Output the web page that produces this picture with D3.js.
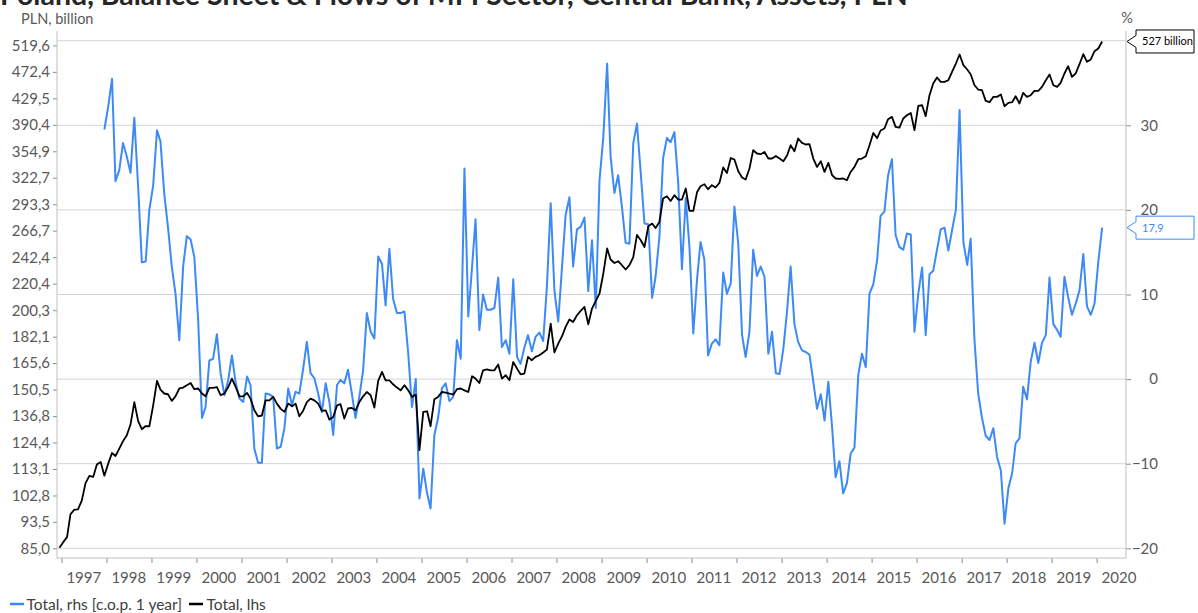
<!DOCTYPE html>
<html>
<head>
<meta charset="utf-8">
<script src="https://cdn.jsdelivr.net/npm/d3@7"></script>
<style>
  body { margin: 0; background: #fff; }
  svg { display: block; font-family: Lato, 'Open Sans', sans-serif; }
</style>
</head>
<body>
<svg id="chart" width="1198" height="613"></svg>
<script>
const titleText = 'Poland, Balance Sheet & Flows of MFI Sector, Central Bank, Assets, PLN';

// Total assets, PLN billion, monthly from Dec 1996 (lhs, log)
const assetsStart = [1996, 11];
const assetsTotal = [
  85.2,
  86.9, 88.5, 96.1, 97.7, 97.8, 101.0, 107.5, 110.3, 109.9, 114.9, 116.0, 110.4,
  115.3, 119.8, 118.5, 121.7, 125.0, 127.7, 132.7, 143.9, 134.4, 130.5, 132.0, 131.9,
  142.2, 155.3, 150.5, 148.4, 148.0, 144.5, 146.9, 151.1, 151.6, 152.9, 154.1, 150.7,
  151.1, 148.4, 146.9, 151.4, 151.4, 151.9, 147.5, 148.4, 151.9, 156.6, 151.9, 146.9,
  146.9, 148.7, 145.7, 139.7, 136.7, 137.1, 144.8, 144.8, 146.6, 143.1, 140.4, 138.9,
  143.1, 141.7, 143.1, 136.7, 139.4, 143.9, 145.7, 144.8, 143.1, 139.4, 139.7, 135.1,
  136.4, 142.2, 142.8, 135.6, 140.6, 140.9, 139.7, 143.9, 146.9, 149.2, 147.5, 141.1,
  155.3, 160.4, 155.6, 155.6, 153.4, 151.6, 150.1, 152.9, 150.1, 146.6, 147.8, 121.0,
  138.9, 139.2, 131.9, 145.4, 146.6, 149.2, 148.9, 148.4, 147.8, 150.7, 151.1, 150.1,
  149.2, 157.9, 156.6, 154.1, 161.3, 161.8, 161.3, 161.3, 164.7, 156.6, 158.5, 155.6,
  166.2, 162.3, 159.0, 159.4, 169.3, 167.3, 169.3, 170.3, 172.0, 173.8, 190.9, 172.0,
  177.6, 182.4, 188.6, 193.7, 192.0, 196.7, 199.8, 202.7, 190.4, 201.5, 207.1, 212.7,
  228.6, 250.1, 240.4, 237.4, 238.9, 235.5, 231.9, 235.5, 242.4, 262.6, 257.7, 251.5,
  271.0, 273.6, 269.3, 275.2, 299.4, 301.9, 296.8, 303.0, 298.3, 298.3, 310.4, 286.3,
  286.3, 306.6, 313.0, 315.2, 309.6, 314.1, 311.5, 316.7, 334.8, 328.3, 346.5, 344.5,
  330.3, 322.9, 320.6, 333.6, 356.3, 352.1, 351.2, 354.1, 345.8, 345.8, 349.0, 345.8,
  342.4, 349.9, 362.8, 355.0, 371.6, 365.8, 363.7, 364.1, 345.8, 335.5, 342.4, 329.5,
  340.4, 325.6, 321.8, 321.3, 321.8, 319.8, 329.5, 335.5, 344.9, 345.8, 348.7, 362.8,
  379.2, 372.0, 382.5, 385.2, 398.4, 401.7, 387.5, 386.6, 399.4, 404.1, 407.5, 382.9,
  417.9, 418.9, 402.7, 434.3, 453.0, 462.9, 455.6, 455.6, 458.4, 472.3, 486.8, 502.9,
  483.9, 476.4, 468.4, 450.2, 443.3, 442.2, 425.5, 423.5, 431.7, 431.7, 435.4, 417.4,
  422.4, 423.5, 432.7, 421.5, 437.9, 431.7, 434.3, 441.1, 441.1, 447.5, 458.4, 467.9,
  450.2, 447.5, 454.0, 469.6, 482.1, 463.9, 469.6, 485.6, 503.4, 489.7, 494.0, 508.9,
  513.8, 527.0
];

// Total, % change over 1 year, monthly from Dec 1997 (rhs)
const changeStart = [1997, 11];
const changeYoY = [
  29.5,
  32.2, 35.5, 23.4, 24.7, 27.9, 26.3, 24.4, 30.9, 22.7, 13.8, 13.9, 20.0,
  22.9, 29.4, 28.1, 21.9, 18.0, 13.3, 10.1, 4.6, 13.3, 16.9, 16.5, 14.4,
  7.0, -4.6, -3.3, 2.2, 2.4, 5.3, 0.7, -1.9, -0.1, 2.8, -0.5, -2.3,
  -2.7, 0.3, -0.7, -8.2, -9.9, -9.9, -1.7, -1.8, -2.1, -8.2, -8.0, -5.8,
  -1.1, -3.1, -1.5, -1.7, 1.1, 4.4, 0.7, 0.1, -1.7, -3.9, -0.5, -2.7,
  -6.6, -0.7, -0.1, -0.5, 1.1, -1.7, -4.6, -2.1, 1.1, 7.8, 5.6, 4.8,
  14.5, 13.6, 8.7, 15.4, 9.5, 7.8, 7.8, 8.0, 3.0, -3.3, 0.0, -14.1,
  -10.6, -13.5, -15.3, -6.6, -4.6, -1.1, -0.5, -2.6, -2.1, 4.6, 2.4, 24.9,
  7.4, 13.3, 18.9, 5.8, 10.0, 8.2, 8.2, 8.4, 12.0, 3.8, 4.6, 3.0,
  11.8, 2.6, 1.8, 3.7, 5.2, 3.3, 5.0, 5.5, 4.5, 10.9, 20.8, 10.5,
  6.8, 13.3, 19.4, 21.5, 13.3, 17.7, 18.0, 19.1, 10.4, 16.4, 8.4, 23.5,
  28.6, 37.3, 26.3, 22.0, 24.1, 20.4, 16.1, 16.0, 27.9, 30.2, 24.3, 18.4,
  18.3, 9.6, 12.1, 16.8, 26.1, 28.5, 28.0, 29.2, 23.1, 13.0, 21.4, 15.6,
  5.4, 11.9, 16.2, 14.1, 2.8, 4.2, 4.7, 4.0, 12.6, 10.1, 11.3, 20.4,
  16.0, 5.2, 2.6, 5.6, 15.3, 12.2, 13.3, 12.1, 3.0, 5.6, 0.7, 0.6,
  3.6, 8.2, 13.3, 6.5, 4.4, 3.4, 3.2, 2.9, -0.3, -3.5, -1.8, -4.9,
  -0.3, -5.8, -11.6, -9.7, -13.5, -12.3, -8.8, -8.1, 0.5, 3.0, 1.4, 10.1,
  11.2, 14.1, 19.3, 19.8, 24.1, 26.0, 17.0, 15.6, 15.3, 17.2, 17.1, 5.6,
  10.1, 13.2, 5.2, 12.4, 12.8, 15.3, 17.7, 17.9, 15.2, 17.6, 20.0, 31.8,
  16.2, 13.5, 16.6, 4.6, -1.7, -4.6, -6.7, -7.2, -5.8, -9.2, -10.8, -17.1,
  -12.9, -11.1, -7.6, -7.0, -0.9, -2.4, 2.0, 4.3, 1.9, 4.3, 5.2, 12.0,
  6.5, 5.8, 5.0, 12.1, 9.7, 7.6, 8.9, 10.5, 14.8, 8.6, 7.6, 8.9,
  13.9, 17.9
];

const leftTickLabels = ['85,0', '93,5', '102,8', '113,1', '124,4', '136,8', '150,5', '165,6', '182,1', '200,3',
  '220,4', '242,4', '266,7', '293,3', '322,7', '354,9', '390,4', '429,5', '472,4', '519,6'];
const rightTicks = [-20, -10, 0, 10, 20, 30];
const gridTicks = [-20, -10, 0, 10, 20, 30, 40];
const yearLabels = d3.range(1997, 2021);

const blue = '#3d8af7';
const axisGrey = '#bfbfbf';
const textGrey = '#595959';

const toSeries = (start, values) => values.map((v, i) => ({
  date: new Date(start[0], start[1] + i, 15),
  value: v
}));
const assets = toSeries(assetsStart, assetsTotal);
const change = toSeries(changeStart, changeYoY);

const svg = d3.select('#chart');
const plotLeft = 57, plotRight = 1126, plotTop = 31, plotBottom = 558;

const x = d3.scaleTime()
  .domain([new Date(1997, 0, 1), new Date(2020, 0, 1)])
  .range([61.5, 1096.6]);
const yL = d3.scaleLog().domain([85, 519.6]).range([548.3, 45.4]);
const yR = d3.scaleLinear().domain([-20, 40]).range([548.3, 40.7]);

// title, cut at the top edge as in the source
svg.append('text')
  .attr('x', 0).attr('y', 5)
  .attr('font-size', 28.5).attr('font-weight', 'bold')
  .attr('fill', '#262626')
  .text(titleText);

svg.append('text').attr('x', 21).attr('y', 24)
  .attr('font-size', 14.5).attr('fill', textGrey).text('PLN, billion');
svg.append('text').attr('x', 1127).attr('y', 23).attr('text-anchor', 'middle')
  .attr('font-size', 14.5).attr('fill', textGrey).text('%');

// gridlines
svg.append('g').selectAll('line').data(gridTicks).join('line')
  .attr('x1', plotLeft).attr('x2', plotRight)
  .attr('y1', d => yR(d)).attr('y2', d => yR(d))
  .attr('stroke', '#d4d4d4').attr('stroke-width', 1);

// series
const lineR = d3.line().x(d => x(d.date)).y(d => yR(d.value));
const lineL = d3.line().x(d => x(d.date)).y(d => yL(d.value));

svg.append('path').datum(change)
  .attr('d', lineR).attr('fill', 'none')
  .attr('stroke', blue).attr('stroke-width', 2).attr('stroke-linejoin', 'round');
svg.append('path').datum(assets)
  .attr('d', lineL).attr('fill', 'none')
  .attr('stroke', '#000').attr('stroke-width', 1.8).attr('stroke-linejoin', 'round');

// axes
function styleAxis(g) {
  g.select('.domain').remove();
  g.selectAll('.tick line').attr('stroke', '#8c8c8c');
  g.selectAll('.tick text').attr('fill', textGrey).attr('font-size', 15)
    .attr('font-family', 'Lato, sans-serif');
}

svg.append('g').attr('transform', `translate(${plotLeft},0)`)
  .call(d3.axisLeft(yL)
    .tickValues(leftTickLabels.map(s => +s.replace(',', '.')))
    .tickFormat((d, i) => leftTickLabels[i])
    .tickSize(4).tickPadding(3))
  .call(styleAxis);

svg.append('g').attr('transform', `translate(${plotRight},0)`)
  .call(d3.axisRight(yR).tickValues(rightTicks).tickSize(5).tickPadding(3))
  .call(styleAxis)
  .call(g => g.selectAll('.tick text').attr('text-anchor', 'end').attr('x', 32));

svg.append('g').attr('transform', `translate(0,${plotBottom})`)
  .call(d3.axisBottom(x)
    .tickValues(yearLabels.map(yr => new Date(yr, 0, 1)))
    .tickFormat('').tickSize(5))
  .call(styleAxis);

svg.append('g').selectAll('text').data(yearLabels).join('text')
  .attr('x', d => x(new Date(d, 6, 1)))
  .attr('y', 583)
  .attr('text-anchor', 'middle')
  .attr('font-size', 15).attr('fill', textGrey)
  .text(d => d);

// frame lines
svg.append('line').attr('x1', plotLeft).attr('x2', plotLeft).attr('y1', plotTop).attr('y2', plotBottom)
  .attr('stroke', axisGrey);
svg.append('line').attr('x1', plotRight).attr('x2', plotRight).attr('y1', plotTop).attr('y2', plotBottom)
  .attr('stroke', axisGrey);
svg.append('line').attr('x1', plotLeft).attr('x2', plotRight).attr('y1', plotBottom).attr('y2', plotBottom)
  .attr('stroke', axisGrey);

// last value callouts
function callout(yTip, label, color) {
  const x0 = plotRight + 1, x1 = 1136, x2 = 1194, h = 11.5;
  const g = svg.append('g');
  g.append('path')
    .attr('d', `M${x0},${yTip} L${x1},${yTip - 6} L${x1},${yTip - h} L${x2},${yTip - h} ` +
      `L${x2},${yTip + h} L${x1},${yTip + h} L${x1},${yTip + 6} Z`)
    .attr('fill', '#fff').attr('stroke', color).attr('stroke-width', 1);
  g.append('text').attr('x', 1142).attr('y', yTip + 4)
    .attr('font-size', 11).attr('fill', color).text(label);
}
const lastAsset = assets[assets.length - 1];
const lastChange = change[change.length - 1];
callout(yL(lastAsset.value), `${Math.round(lastAsset.value)} billion`, '#000');
callout(yR(lastChange.value), d3.format('.1f')(lastChange.value).replace('.', ','), blue);

// legend
const legend = svg.append('g').attr('font-size', 15.5).attr('fill', '#404040');
legend.append('line').attr('x1', 10).attr('x2', 24).attr('y1', 604).attr('y2', 604)
  .attr('stroke', blue).attr('stroke-width', 2.5);
legend.append('text').attr('x', 26.5).attr('y', 609.5).text('Total, rhs [c.o.p. 1 year]');
legend.append('line').attr('x1', 189).attr('x2', 203).attr('y1', 604).attr('y2', 604)
  .attr('stroke', '#000').attr('stroke-width', 2.5);
legend.append('text').attr('x', 206.5).attr('y', 609.5).text('Total, lhs');
</script>
</body>
</html>
